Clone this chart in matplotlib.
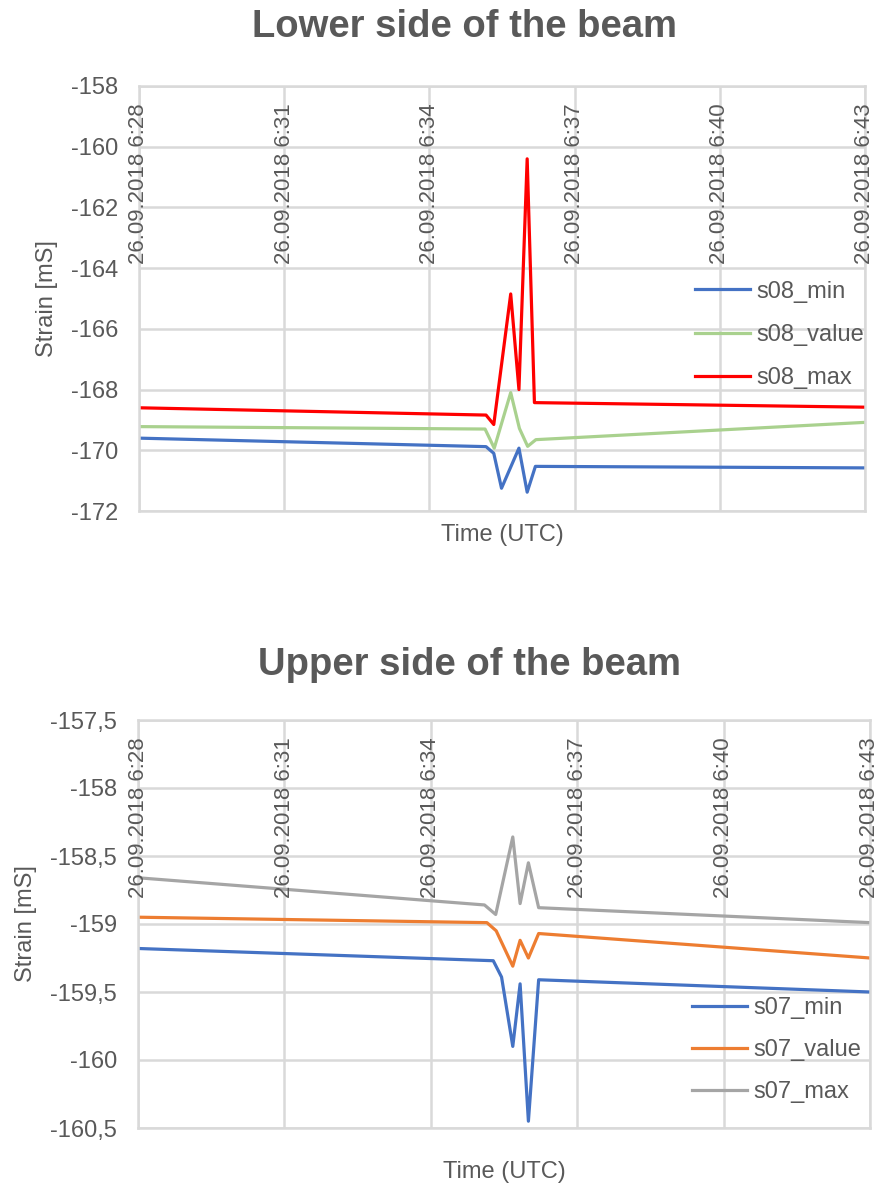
import matplotlib
matplotlib.use("Agg")
import matplotlib.pyplot as plt
from matplotlib.ticker import FuncFormatter, FixedLocator
import matplotlib.transforms as mtransforms

plt.rcParams["font.family"] = ["Liberation Sans", "DejaVu Sans"]

# time axis in minutes after 26.09.2018 6:28 (UTC)
tick_minutes = [0, 3, 6, 9, 12, 15]
tick_labels = ["26.09.2018 6:28", "26.09.2018 6:31", "26.09.2018 6:34",
               "26.09.2018 6:37", "26.09.2018 6:40", "26.09.2018 6:43"]

# lower side of the beam, sensor s08
s08_min_t = [0, 7.17, 7.33, 7.49, 7.85, 8.02, 8.19, 15]
s08_min = [-169.6, -169.88, -170.1, -171.25, -169.93, -171.38, -170.53, -170.58]
s08_value_t = [0, 7.15, 7.34, 7.68, 7.86, 8.03, 8.2, 15]
s08_value = [-169.22, -169.3, -169.93, -168.1, -169.28, -169.87, -169.65, -169.08]
s08_max_t = [0, 7.17, 7.33, 7.68, 7.85, 8.02, 8.17, 15]
s08_max = [-168.6, -168.84, -169.15, -164.85, -168.0, -160.4, -168.43, -168.58]

# upper side of the beam, sensor s07
s07_min_t = [0, 7.28, 7.45, 7.68, 7.83, 8.0, 8.21, 15]
s07_min = [-159.18, -159.27, -159.39, -159.9, -159.44, -160.45, -159.41, -159.5]
s07_value_t = [0, 7.15, 7.34, 7.68, 7.83, 8.0, 8.21, 15]
s07_value = [-158.95, -158.99, -159.05, -159.31, -159.12, -159.25, -159.07, -159.25]
s07_max_t = [0, 7.1, 7.33, 7.68, 7.83, 8.0, 8.21, 15]
s07_max = [-158.66, -158.86, -158.93, -158.36, -158.85, -158.55, -158.88, -158.99]

TEXT = "#595959"
GRID = "#d9d9d9"

W, H = 881, 1189
fig = plt.figure(figsize=(W / 100, H / 100), dpi=100)


def px_axes(left, top, right, bottom):
    return fig.add_axes([left / W, 1 - bottom / H, (right - left) / W, (bottom - top) / H])


def decimal_comma(v, pos):
    s = "{:g}".format(round(v, 3))
    return s.replace(".", ",").replace("\u2212", "-")


def style_axes(ax, ylim, ystep, xlabelpad):
    ax.set_xlim(0, 15)
    ax.set_ylim(*ylim)
    ax.xaxis.set_major_locator(FixedLocator(tick_minutes))
    ax.set_xticklabels([])
    ticks = []
    v = ylim[0]
    while v <= ylim[1] + 1e-9:
        ticks.append(round(v, 3))
        v += ystep
    ax.yaxis.set_major_locator(FixedLocator(ticks))
    ax.yaxis.set_major_formatter(FuncFormatter(decimal_comma))
    ax.tick_params(axis="y", length=0, colors=TEXT, labelsize=17, pad=15)
    ax.tick_params(axis="x", length=0, pad=0)
    ax.grid(True, color=GRID, linewidth=1.8)
    ax.set_axisbelow(True)
    for sp in ax.spines.values():
        sp.set_color(GRID)
        sp.set_linewidth(1.8)
    trans = mtransforms.blended_transform_factory(ax.transData, ax.transAxes)
    offset = mtransforms.ScaledTranslation(0, -17 / 100, fig.dpi_scale_trans)
    for m, lab in zip(tick_minutes, tick_labels):
        ax.text(m, 1.0, lab, transform=trans + offset, rotation=90,
                ha="center", va="top", fontsize=16, color=TEXT, clip_on=False)
    ax.set_xlabel("Time (UTC)", fontsize=17, color=TEXT, labelpad=xlabelpad)
    ax.set_ylabel("Strain [mS]", fontsize=17, color=TEXT)


lw = 2.3

# ---- lower side ----
ax1 = px_axes(139, 86, 865, 511)
ax1.plot(s08_min_t, s08_min, color="#4472C4", lw=lw, label="s08_min")
ax1.plot(s08_value_t, s08_value, color="#A9D18E", lw=lw, label="s08_value")
ax1.plot(s08_max_t, s08_max, color="#FF0000", lw=lw, label="s08_max")
style_axes(ax1, (-172, -158), 2, 9.5)
ax1.yaxis.set_label_coords((58 - 139) / 726, 0.5)
fig.text(465 / W, 1 - 27 / H, "Lower side of the beam", ha="center", va="center",
         fontsize=27.5, fontweight="bold", color=TEXT)
ax1.legend(loc="center left", bbox_to_anchor=(695 / W, 1 - 335 / H),
           bbox_transform=fig.transFigure, frameon=False, fontsize=17,
           handlelength=2.35, handletextpad=0.25, labelspacing=0.9,
           borderpad=0, borderaxespad=0, labelcolor=TEXT)

# ---- upper side ----
ax2 = px_axes(138, 720, 870, 1128)
ax2.plot(s07_min_t, s07_min, color="#4472C4", lw=lw, label="s07_min")
ax2.plot(s07_value_t, s07_value, color="#ED7D31", lw=lw, label="s07_value")
ax2.plot(s07_max_t, s07_max, color="#A5A5A5", lw=lw, label="s07_max")
style_axes(ax2, (-160.5, -157.5), 0.5, 24)
ax2.yaxis.set_label_coords((37 - 138) / 732, 0.5)
fig.text(469 / W, 1 - 665 / H, "Upper side of the beam", ha="center", va="center",
         fontsize=27.5, fontweight="bold", color=TEXT)
ax2.legend(loc="center left", bbox_to_anchor=(692 / W, 1 - 1050 / H),
           bbox_transform=fig.transFigure, frameon=False, fontsize=17,
           handlelength=2.35, handletextpad=0.25, labelspacing=0.85,
           borderpad=0, borderaxespad=0, labelcolor=TEXT)

fig.savefig("out.png", dpi=100, facecolor="white")
